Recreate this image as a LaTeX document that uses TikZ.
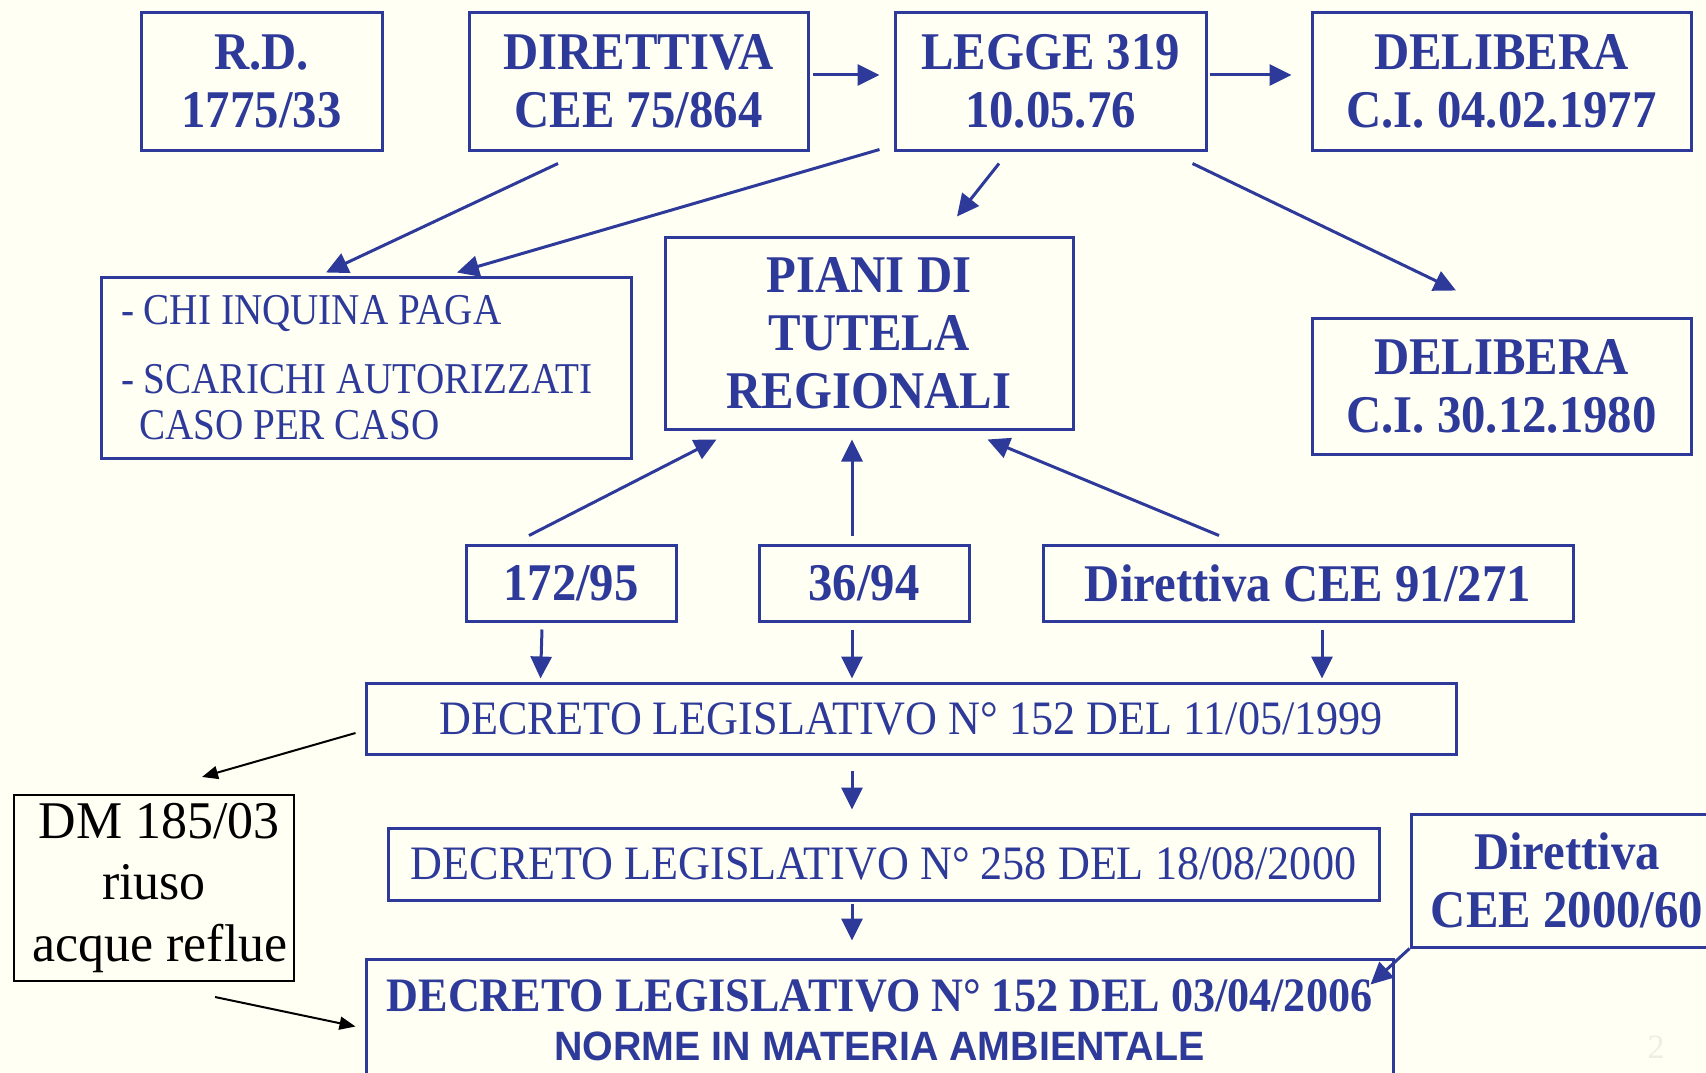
\documentclass[tikz,border=0pt]{standalone}
\usepackage{fontspec}
\setmainfont{Liberation Serif}
\newfontfamily\slidefont{Liberation Serif}[FakeStretch=0.92]
\newfontfamily\listfont{Liberation Serif}[FakeStretch=0.89]
\newfontfamily\dmfont{Liberation Serif}[FakeStretch=0.98]
\newfontfamily\normefont{Liberation Sans}[FakeStretch=0.96]
\usetikzlibrary{arrows.meta}
\definecolor{slideblue}{RGB}{46,58,154}
\definecolor{slidebg}{RGB}{255,255,243}
\definecolor{pagegray}{RGB}{238,238,226}

\begin{document}
\begin{tikzpicture}[x=1pt,y=-1pt,
    box/.style={draw=slideblue,line width=3pt,text=slideblue,align=center,inner sep=0pt},
    big/.style={font=\slidefont\bfseries\fontsize{53}{58}\selectfont},
    decr/.style={font=\slidefont\fontsize{48}{52}\selectfont},
    arr/.style={draw=slideblue,line width=3pt,-{Triangle[length=22pt,width=21pt]}},
    blackarr/.style={draw=black,line width=2pt,-{Triangle[length=16pt,width=13pt]}}]

    % Slide background
    \useasboundingbox (0,0) rectangle (1706,1073);
    \fill[slidebg] (0,0) rectangle (1706,1073);

    % Top row
    \node[box,big,minimum width=241,minimum height=137] (rd) at (261.5,81.5) {R.D.\\1775/33};
    \node[box,big,minimum width=339,minimum height=137] (dir75) at (638.5,81.5) {DIRETTIVA\\CEE 75/864};
    \node[box,big,minimum width=311,minimum height=137] (legge) at (1050.5,81.5) {LEGGE 319\\10.05.76};
    \node[box,big,minimum width=379,minimum height=137] (del77) at (1501.5,81.5) {DELIBERA\\C.I. 04.02.1977};

    % Second row
    \node[box,font=\listfont\fontsize{44}{46}\selectfont,align=left,text width=490,inner xsep=20,minimum height=181] (chi) at (366,367.5)
        {\spaceskip=0pt\xspaceskip=0pt\relax
         - CHI INQUINA PAGA\\[23pt]- SCARICHI AUTORIZZATI\\\hspace*{18pt}CASO PER CASO};
    \node[box,big,minimum width=408,minimum height=192] (piani) at (869,333) {PIANI DI\\TUTELA\\REGIONALI};
    \node[box,big,minimum width=379,minimum height=136] (del80) at (1501.5,386) {DELIBERA\\C.I. 30.12.1980};

    % Third row
    \node[box,big,minimum width=210,minimum height=76] (n172) at (571,583) {172/95};
    \node[box,big,minimum width=210,minimum height=76] (n36) at (864,583) {36/94};
    \node[box,big,minimum width=530,minimum height=76] (dir91) at (1308,583) {Direttiva CEE 91/271};

    % Decrees
    \node[box,decr,minimum width=1090,minimum height=71] (dl99) at (911,718.5) {DECRETO LEGISLATIVO N° 152 DEL 11/05/1999};
    \node[box,decr,minimum width=991,minimum height=72] (dl00) at (883.5,864) {DECRETO LEGISLATIVO N° 258 DEL 18/08/2000};
    \node[box,font=\slidefont\bfseries\fontsize{48}{49}\selectfont,minimum width=1027,minimum height=122] (dl06) at (879.5,1020)
        {DECRETO LEGISLATIVO N° 152 DEL 03/04/2006\\{\normefont\bfseries\fontsize{41}{49}\selectfont NORME IN MATERIA AMBIENTALE}};

    % Side boxes
    \node[draw=black,line width=2pt,align=center,inner sep=0pt,font=\dmfont\fontsize{53}{61.5}\selectfont,minimum width=280,minimum height=186] (dm) at (154,888)
        {\hspace*{10pt}DM 185/03\\riuso\\\hspace*{12pt}acque reflue};
    \node[box,big,minimum width=312,minimum height=133] (dir2000) at (1567,880.5) {Direttiva\\CEE 2000/60};

    % Slide number
    \node[text=pagegray,font=\fontsize{34}{34}\selectfont] (pagenum) at (1656,1047) {2};

    % Arrows from the top row
    \draw[arr] ([shift={(3,-6.5)}]dir75.east) -- ([shift={(-14,-6.5)}]legge.west);
    \draw[arr] ([shift={(2,-6.5)}]legge.east) -- ([shift={(-19,-6.5)}]del77.west);
    \draw[arr] ([shift={(-80.5,12)}]dir75.south) -- ([shift={(-40,-3)}]chi.north);
    \draw[arr] ([shift={(-14,-2)}]legge.south west) -- ([shift={(91,-3)}]chi.north);
    \draw[arr] ([shift={(-51.5,12)}]legge.south) -- ([shift={(88,-19)}]piani.north);
    \draw[arr] ([shift={(-15,12)}]legge.south east) -- ([shift={(-45.5,-26)}]del80.north);

    % Arrows into the regional plans
    \draw[arr] ([shift={(-42,-8)}]n172.north) -- ([shift={(53,9)}]piani.south west);
    \draw[arr] ([shift={(-12,-8)}]n36.north) -- ([shift={(-17,9)}]piani.south);
    \draw[arr] ([shift={(-89,-8)}]dir91.north) -- ([shift={(-87,9)}]piani.south east);

    % Arrows down to the decrees
    \draw[arr] ([shift={(-29,7)}]n172.south) -- ([shift={(176,-3)}]dl99.north west);
    \draw[arr] ([shift={(-12,7)}]n36.south) -- ([shift={(-59,-3)}]dl99.north);
    \draw[arr] ([shift={(14,7)}]dir91.south) -- ([shift={(411,-3)}]dl99.north);
    \draw[arr] ([shift={(-59,15)}]dl99.south) -- ([shift={(-31.5,-17)}]dl00.north);
    \draw[arr] ([shift={(-31.5,2)}]dl00.south) -- ([shift={(-27.5,-17)}]dl06.north);
    \draw[arr] (dir2000.south west) -- ([shift={(-24,27)}]dl06.north east);

    % Reuse decree
    \draw[blackarr] ([shift={(-9,14.5)}]dl99.west) -- ([shift={(48,-17)}]dm.north);
    \draw[blackarr] ([shift={(61,15)}]dm.south) -- ([shift={(-9,69)}]dl06.north west);
\end{tikzpicture}
\end{document}
